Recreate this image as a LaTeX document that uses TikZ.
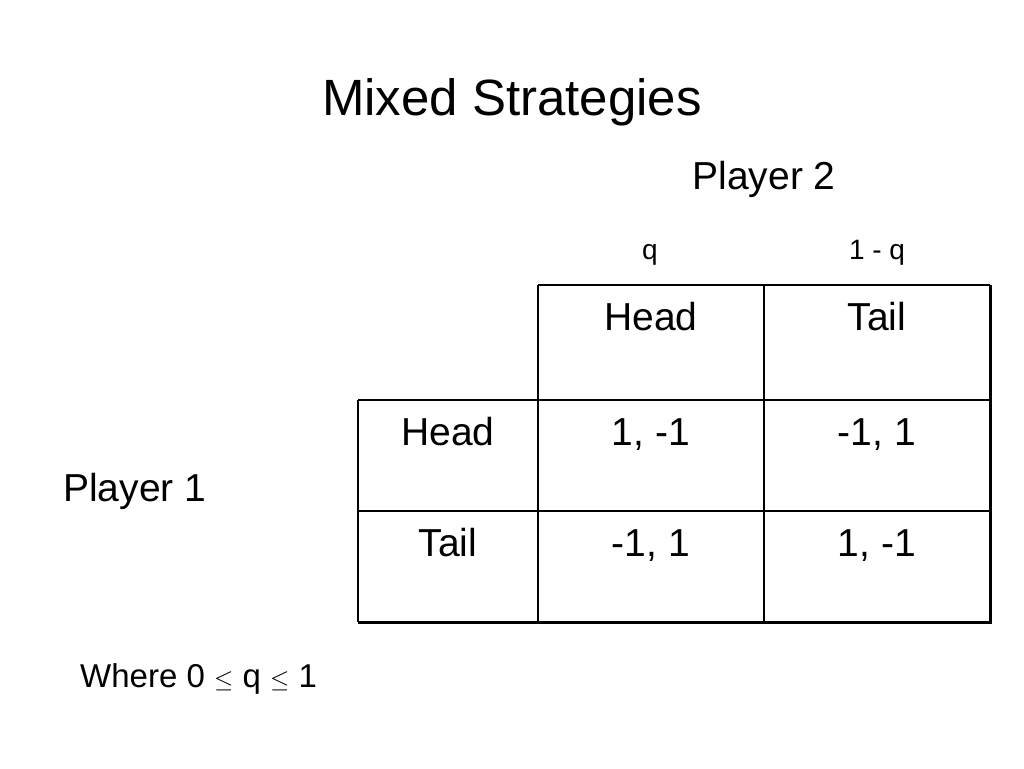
\documentclass[tikz,border=0pt]{standalone}
\usepackage{fontspec}
\setmainfont{Liberation Sans}
\newcommand{\myleq}{{\fontsize{27}{30}\selectfont$\leq$}}
\begin{document}
\begin{tikzpicture}[x=1pt,y=-1pt,
  txt/.style={anchor=base,inner sep=0pt,text=black},
  titlefont/.style={font=\fontsize{51}{60}\selectfont},
  bigfont/.style={font=\fontsize{39}{46}\selectfont},
  smallfont/.style={font=\fontsize{28}{34}\selectfont},
  notefont/.style={font=\fontsize{33}{40}\selectfont},
  gridthin/.style={draw=black,line width=1.4pt},
  gridthick/.style={draw=black,line width=3pt,line join=miter}]
\useasboundingbox (0,0) rectangle (1024,768);
\fill[white] (0,0) rectangle (1024,768);
% grid coordinates
\coordinate (t0) at (538,285);
\coordinate (t1) at (990,285);
\coordinate (r1a) at (358,400);
\coordinate (r1b) at (990,400);
\coordinate (r2a) at (358,511);
\coordinate (r2b) at (990,511);
\coordinate (bl) at (358,622);
\coordinate (br) at (990,622);
\coordinate (c1top) at (538,285);
\coordinate (c1bot) at (538,622);
\coordinate (c2top) at (764,285);
\coordinate (c2bot) at (764,622);
% table lines
\draw[gridthin] (t0) -- (t1);
\draw[gridthin] (r1a) -- (r1b);
\draw[gridthin] (r2a) -- (r2b);
\draw[gridthin] (r1a) -- (bl);
\draw[gridthin] (c1top) -- (c1bot);
\draw[gridthin] (c2top) -- (c2bot);
\draw[gridthick] (bl) -- (br) -- (t1);
% texts
\node[txt,titlefont] (title) at (512,115) {Mixed Strategies};
\node[txt,bigfont] (p2) at (764,189.5) {Player 2};
\node[txt,smallfont] (q) at (650,259) {q};
\node[txt,smallfont] (oneq) at (877,259) {1 - q};
\node[txt,bigfont] (hH) at (651,330) {Head};
\node[txt,bigfont] (hT) at (877,330) {Tail};
\node[txt,bigfont] (rH) at (448,445) {Head};
\node[txt,bigfont] (c11) at (651,445) {1, -1};
\node[txt,bigfont] (c12) at (877,445) {-1, 1};
\node[txt,bigfont] (rT) at (448,556.5) {Tail};
\node[txt,bigfont] (c21) at (651,556.5) {-1, 1};
\node[txt,bigfont] (c22) at (877,556.5) {1, -1};
\node[txt,bigfont,anchor=base west] (p1) at (63,501.5) {Player 1};
\node[txt,notefont,anchor=base west] (note) at (80,687) {Where 0 \myleq{} q \myleq{} 1};
\end{tikzpicture}
\end{document}
